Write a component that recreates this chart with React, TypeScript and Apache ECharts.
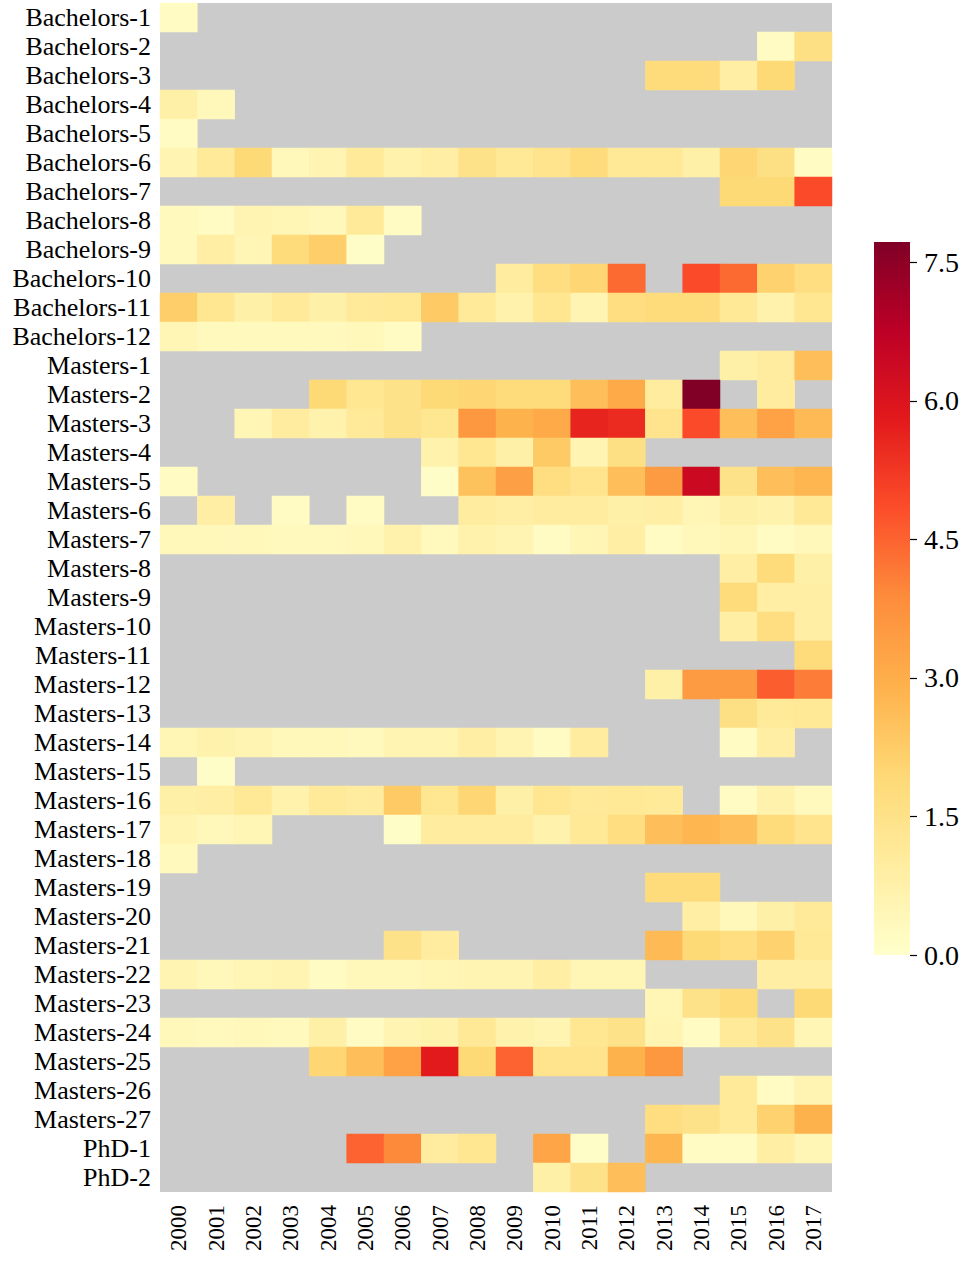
import React, { useEffect, useRef } from "react";
import * as echarts from "echarts";

const years = ["2000","2001","2002","2003","2004","2005","2006","2007","2008","2009","2010","2011","2012","2013","2014","2015","2016","2017"];

const programs = [
  "Bachelors-1","Bachelors-2","Bachelors-3","Bachelors-4","Bachelors-5","Bachelors-6","Bachelors-7","Bachelors-8","Bachelors-9","Bachelors-10","Bachelors-11","Bachelors-12",
  "Masters-1","Masters-2","Masters-3","Masters-4","Masters-5","Masters-6","Masters-7","Masters-8","Masters-9","Masters-10","Masters-11","Masters-12","Masters-13","Masters-14","Masters-15","Masters-16","Masters-17","Masters-18","Masters-19","Masters-20","Masters-21","Masters-22","Masters-23","Masters-24","Masters-25","Masters-26","Masters-27",
  "PhD-1","PhD-2",
];

const _ = null;
// one row per program, one value per year 2000..2017 (null = no data)
const bachelors1  = [0.2,_,_,_,_,_,_,_,_,_,_,_,_,_,_,_,_,_];
const bachelors2  = [_,_,_,_,_,_,_,_,_,_,_,_,_,_,_,_,0.2,1.6];
const bachelors3  = [_,_,_,_,_,_,_,_,_,_,_,_,_,1.8,1.8,0.9,1.9,_];
const bachelors4  = [0.8,0.4,_,_,_,_,_,_,_,_,_,_,_,_,_,_,_,_];
const bachelors5  = [0.2,_,_,_,_,_,_,_,_,_,_,_,_,_,_,_,_,_];
const bachelors6  = [0.6,1.1,1.9,0.4,0.6,1.1,0.7,0.9,1.5,1.2,1.4,1.8,1.2,1.2,0.8,2.0,1.6,0.2];
const bachelors7  = [_,_,_,_,_,_,_,_,_,_,_,_,_,_,_,1.9,1.9,4.9];
const bachelors8  = [0.3,0.2,0.6,0.5,0.4,1.1,0.2,_,_,_,_,_,_,_,_,_,_,_];
const bachelors9  = [0.3,0.9,0.5,1.8,2.2,0.1,_,_,_,_,_,_,_,_,_,_,_,_];
const bachelors10 = [_,_,_,_,_,_,_,_,_,1.0,1.7,2.0,4.4,_,4.9,4.4,2.1,1.7];
const bachelors11 = [2.2,1.3,0.8,1.1,0.8,1.1,1.2,2.3,1.1,0.7,1.3,0.6,1.7,1.8,1.8,1.2,0.7,1.3];
const bachelors12 = [0.5,0.3,0.3,0.3,0.3,0.4,0.2,_,_,_,_,_,_,_,_,_,_,_];
const masters1  = [_,_,_,_,_,_,_,_,_,_,_,_,_,_,_,0.8,1.0,2.6];
const masters2  = [_,_,_,_,1.9,1.3,1.5,1.9,2.0,1.8,1.8,2.6,3.1,1.0,7.72,_,1.0,_];
const masters3  = [_,_,0.5,1.0,0.7,1.1,1.5,1.3,3.6,2.9,3.1,5.6,5.5,1.4,4.9,2.6,3.3,2.7];
const masters4  = [_,_,_,_,_,_,_,0.7,1.3,0.8,2.3,0.6,1.6,_,_,_,_,_];
const masters5  = [0.2,_,_,_,_,_,_,0.1,2.5,3.4,1.7,1.4,2.6,3.5,6.4,1.5,2.6,2.8];
const masters6  = [_,0.9,_,0.2,_,0.2,_,_,1.0,0.9,1.0,1.0,0.8,0.9,0.5,0.8,0.7,1.2];
const masters7  = [0.4,0.4,0.4,0.3,0.3,0.4,0.7,0.3,0.7,0.6,0.2,0.5,0.9,0.2,0.4,0.5,0.2,0.4];
const masters8  = [_,_,_,_,_,_,_,_,_,_,_,_,_,_,_,0.9,1.8,0.8];
const masters9  = [_,_,_,_,_,_,_,_,_,_,_,_,_,_,_,1.8,0.9,0.9];
const masters10 = [_,_,_,_,_,_,_,_,_,_,_,_,_,_,_,0.9,1.7,0.9];
const masters11 = [_,_,_,_,_,_,_,_,_,_,_,_,_,_,_,_,_,1.8];
const masters12 = [_,_,_,_,_,_,_,_,_,_,_,_,_,0.8,3.5,3.5,4.6,4.1];
const masters13 = [_,_,_,_,_,_,_,_,_,_,_,_,_,_,_,1.6,1.1,1.2];
const masters14 = [0.5,0.7,0.6,0.4,0.4,0.3,0.6,0.6,0.9,0.6,0.2,1.0,_,_,_,0.2,0.9,_];
const masters15 = [_,0.1,_,_,_,_,_,_,_,_,_,_,_,_,_,_,_,_];
const masters16 = [0.8,0.9,1.2,0.7,1.1,1.0,2.3,1.3,2.0,0.8,1.3,1.1,1.2,1.1,_,0.2,0.7,0.3];
const masters17 = [0.6,0.4,0.5,_,_,_,0.1,1.0,1.0,1.0,0.7,1.2,1.7,2.6,2.8,2.6,1.8,1.4];
const masters18 = [0.3,_,_,_,_,_,_,_,_,_,_,_,_,_,_,_,_,_];
const masters19 = [_,_,_,_,_,_,_,_,_,_,_,_,_,1.8,1.8,_,_,_];
const masters20 = [_,_,_,_,_,_,_,_,_,_,_,_,_,_,0.9,0.4,0.8,1.1];
const masters21 = [_,_,_,_,_,_,1.5,1.0,_,_,_,_,_,2.7,1.9,1.7,2.1,1.2];
const masters22 = [0.6,0.4,0.5,0.6,0.2,0.4,0.4,0.5,0.6,0.6,0.9,0.5,0.5,_,_,_,0.9,0.9];
const masters23 = [_,_,_,_,_,_,_,_,_,_,_,_,_,0.5,1.5,1.8,_,1.9];
const masters24 = [0.4,0.3,0.4,0.3,0.8,0.2,0.6,0.7,1.2,0.7,0.6,1.3,1.5,0.6,0.2,1.1,1.5,0.5];
const masters25 = [_,_,_,_,2.0,2.6,3.3,5.8,1.9,4.5,1.4,1.4,2.9,3.6,_,_,_,_];
const masters26 = [_,_,_,_,_,_,_,_,_,_,_,_,_,_,_,1.1,0.2,0.6];
const masters27 = [_,_,_,_,_,_,_,_,_,_,_,_,_,1.7,1.5,1.1,2.1,2.9];
const phd1 = [_,_,_,_,_,4.5,3.9,1.0,1.3,_,3.2,0.1,_,2.8,0.2,0.2,0.9,0.5];
const phd2 = [_,_,_,_,_,_,_,_,_,_,0.8,1.5,2.6,_,_,_,_,_];

const rows = [
  bachelors1,bachelors2,bachelors3,bachelors4,bachelors5,bachelors6,bachelors7,bachelors8,bachelors9,bachelors10,bachelors11,bachelors12,
  masters1,masters2,masters3,masters4,masters5,masters6,masters7,masters8,masters9,masters10,masters11,masters12,masters13,masters14,masters15,masters16,masters17,masters18,masters19,masters20,masters21,masters22,masters23,masters24,masters25,masters26,masters27,
  phd1,phd2,
];

const colorMin = 0;
const colorMax = 7.72;
const colorbarTicks = [0, 1.5, 3.0, 4.5, 6.0, 7.5];
const ylOrRd = ["#ffffcc","#ffeda0","#fed976","#feb24c","#fd8d3c","#fc4e2a","#e31a1c","#bd0026","#800026"];

export default function App() {
  const ref = useRef<HTMLDivElement>(null);
  useEffect(() => {
    if (!ref.current) return;
    const chart = echarts.init(ref.current, null, { renderer: "svg" });
    const data: any[] = [];
    rows.forEach((row, yi) => {
      row.forEach((v, xi) => {
        if (v !== null) data.push([xi, yi, v]);
      });
    });
    const font = "Liberation Serif";
    const n = ylOrRd.length - 1;
    // gradient from top (dark, offset 0) to bottom (light, offset 1), offsets ascending
    const stops = ylOrRd.slice().reverse().map((c, i) => ({ offset: i / n, color: c }));
    chart.setOption({
      animation: false,
      backgroundColor: "#ffffff",
      grid: [
        { left: 160, top: 3, width: 672, height: 1189, show: true, backgroundColor: "#cbcbcb", borderWidth: 0 },
        { left: 874, top: 242, width: 36, height: 713, show: false },
      ],
      xAxis: [
        {
          type: "category", gridIndex: 0, data: years,
          axisLine: { show: false }, axisTick: { show: false }, splitLine: { show: false },
          axisLabel: { interval: 0, rotate: 90, margin: 13, fontFamily: font, fontSize: 23, color: "#000" },
        },
        {
          type: "category", gridIndex: 1, data: ["scale"],
          axisLine: { show: false }, axisTick: { show: false }, axisLabel: { show: false },
        },
      ],
      yAxis: [
        {
          type: "category", gridIndex: 0, data: programs, inverse: true,
          axisLine: { show: false }, axisTick: { show: false }, splitLine: { show: false },
          axisLabel: { interval: 0, margin: 9, fontFamily: font, fontSize: 26, color: "#000" },
        },
        {
          type: "value", gridIndex: 1, position: "right", min: colorMin, max: colorMax, interval: 1.5,
          axisLine: { show: false }, splitLine: { show: false },
          axisTick: { show: true, length: 7, inside: false, lineStyle: { color: "#000", width: 1.2 } },
          axisLabel: {
            showMaxLabel: false, margin: 14, fontFamily: font, fontSize: 28, color: "#000",
            formatter: (v: number) => (colorbarTicks.includes(v) ? v.toFixed(1) : ""),
          },
        },
      ],
      visualMap: {
        show: false, seriesIndex: 0, min: colorMin, max: colorMax,
        inRange: { color: ylOrRd },
      },
      series: [
        {
          type: "heatmap", xAxisIndex: 0, yAxisIndex: 0, data,
          itemStyle: { borderWidth: 0 },
          emphasis: { disabled: true },
        },
        {
          type: "bar", xAxisIndex: 1, yAxisIndex: 1, data: [colorMax], barWidth: "100%",
          itemStyle: { color: new echarts.graphic.LinearGradient(0, 0, 0, 1, stops) },
          emphasis: { disabled: true }, silent: true,
        },
      ],
    });
    return () => chart.dispose();
  }, []);
  return <div ref={ref} style={{ position: "absolute", left: 0, top: 0, width: 972, height: 1261 }} />;
}
